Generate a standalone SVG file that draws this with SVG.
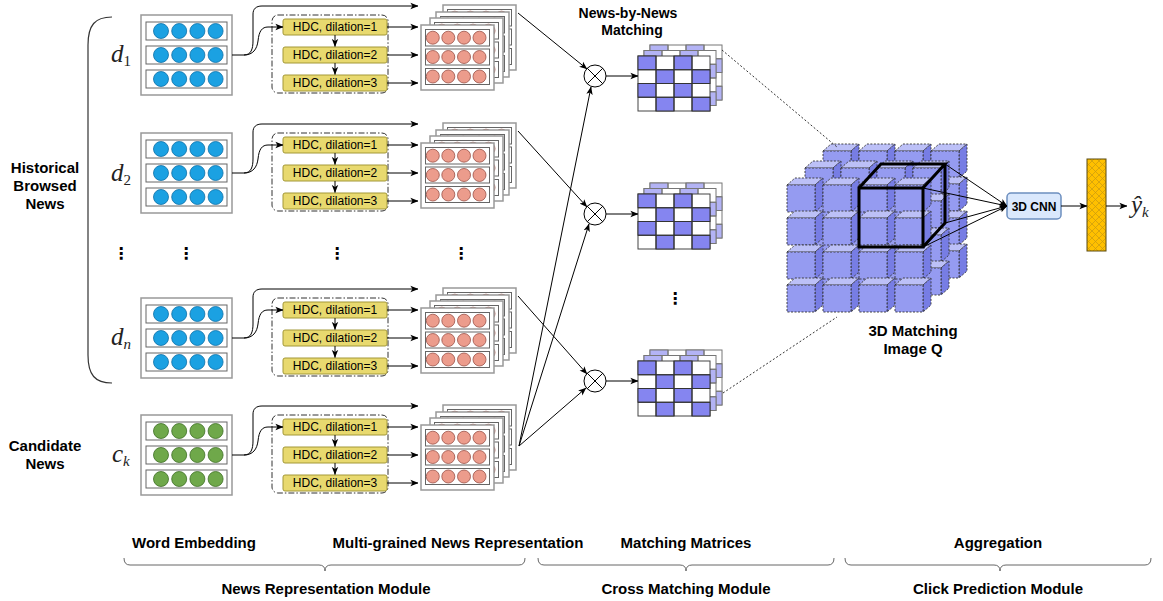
<svg xmlns="http://www.w3.org/2000/svg" width="1163" height="601" viewBox="0 0 1163 601">
<style>
.lbl{font-family:"Liberation Sans",Arial,sans-serif;font-weight:bold;font-size:15px;fill:#000;text-anchor:middle}
.lbl14{font-size:14px}
.lbl12{font-size:12px}
.hdct{font-family:"Liberation Sans",Arial,sans-serif;font-size:12px;fill:#000;text-anchor:middle}
.math{font-family:"Liberation Serif","DejaVu Serif",serif;font-style:italic;font-size:25px;fill:#222}
.sub{font-size:15px}
.dots{font-family:"DejaVu Sans",sans-serif;font-weight:bold;font-size:16px;fill:#000;text-anchor:middle}
.ln{fill:none;stroke:#000;stroke-width:1}
.arr{marker-end:url(#ah)}
.brace{fill:none;stroke:#666;stroke-width:1}
.cf{fill:#959bf1;stroke:#333;stroke-width:0.9;stroke-dasharray:2 1.5}
.ct{fill:#bcc0f7;stroke:#333;stroke-width:0.9;stroke-dasharray:2 1.5}
.cs{fill:#777de4;stroke:#333;stroke-width:0.9;stroke-dasharray:2 1.5}
</style>
<defs>
<marker id="ah" viewBox="0 0 10 10" refX="9.5" refY="5" markerWidth="8" markerHeight="8" markerUnits="userSpaceOnUse" orient="auto">
<path d="M0,1 L10,5 L0,9 L2.5,5 z" fill="#000"/>
</marker>
<pattern id="hatch" width="7" height="7" patternUnits="userSpaceOnUse">
<rect width="7" height="7" fill="#ffc000"/>
<path d="M0,0 L7,7 M7,0 L0,7" stroke="#c99a10" stroke-width="0.7"/>
</pattern>
<g id="embBlue">
<rect x="0" y="0" width="91" height="80" fill="#fff" stroke="#999" stroke-width="1.5"/>
<rect x="5" y="7" width="81" height="18" fill="#fff" stroke="#666"/>
<rect x="5" y="31" width="81" height="18" fill="#fff" stroke="#666"/>
<rect x="5" y="55" width="81" height="18" fill="#fff" stroke="#666"/>
<g fill="#1ba1e2" stroke="#0d6fa6" stroke-width="0.8">
<circle cx="20" cy="16" r="7.5"/><circle cx="38.2" cy="16" r="7.5"/><circle cx="56.4" cy="16" r="7.5"/><circle cx="74.6" cy="16" r="7.5"/>
<circle cx="20" cy="40" r="7.5"/><circle cx="38.2" cy="40" r="7.5"/><circle cx="56.4" cy="40" r="7.5"/><circle cx="74.6" cy="40" r="7.5"/>
<circle cx="20" cy="64" r="7.5"/><circle cx="38.2" cy="64" r="7.5"/><circle cx="56.4" cy="64" r="7.5"/><circle cx="74.6" cy="64" r="7.5"/>
</g>
</g>
<g id="embGreen">
<rect x="0" y="0" width="91" height="80" fill="#fff" stroke="#999" stroke-width="1.5"/>
<rect x="5" y="7" width="81" height="18" fill="#fff" stroke="#666"/>
<rect x="5" y="31" width="81" height="18" fill="#fff" stroke="#666"/>
<rect x="5" y="55" width="81" height="18" fill="#fff" stroke="#666"/>
<g fill="#6fa84a" stroke="#3e6d24" stroke-width="0.8">
<circle cx="20" cy="16" r="7.5"/><circle cx="38.2" cy="16" r="7.5"/><circle cx="56.4" cy="16" r="7.5"/><circle cx="74.6" cy="16" r="7.5"/>
<circle cx="20" cy="40" r="7.5"/><circle cx="38.2" cy="40" r="7.5"/><circle cx="56.4" cy="40" r="7.5"/><circle cx="74.6" cy="40" r="7.5"/>
<circle cx="20" cy="64" r="7.5"/><circle cx="38.2" cy="64" r="7.5"/><circle cx="56.4" cy="64" r="7.5"/><circle cx="74.6" cy="64" r="7.5"/>
</g>
</g>
<g id="hdc">
<rect x="0" y="0" width="116" height="78" rx="6" fill="none" stroke="#333" stroke-dasharray="6 2 1.5 2"/>
<g fill="#e8d96f" stroke="#a39838">
<rect x="11" y="4" width="104" height="16" rx="2"/>
<rect x="11" y="32" width="104" height="16" rx="2"/>
<rect x="11" y="60" width="104" height="16" rx="2"/>
</g>
<text class="hdct" x="63" y="16.3">HDC, dilation=1</text>
<text class="hdct" x="63" y="44.3">HDC, dilation=2</text>
<text class="hdct" x="63" y="72.3">HDC, dilation=3</text>
<path class="ln arr" d="M63,20 L63,31.5"/>
<path class="ln arr" d="M63,48 L63,59.5"/>
</g>
<g id="layer">
<rect x="0" y="0" width="73" height="65" fill="#fff" stroke="#999" stroke-width="1.5"/>
<rect x="4.5" y="4.5" width="64" height="16.5" fill="#fff" stroke="#666"/>
<rect x="4.5" y="24" width="64" height="16" fill="#fff" stroke="#666"/>
<rect x="4.5" y="43.5" width="64" height="16" fill="#fff" stroke="#666"/>
<g fill="#ec9c8c" stroke="#9b5046" stroke-width="0.8">
<circle cx="11.8" cy="12.7" r="6.5"/><circle cx="27.3" cy="12.7" r="6.5"/><circle cx="43" cy="12.7" r="6.5"/><circle cx="58.5" cy="12.7" r="6.5"/>
<circle cx="11.8" cy="32" r="6.5"/><circle cx="27.3" cy="32" r="6.5"/><circle cx="43" cy="32" r="6.5"/><circle cx="58.5" cy="32" r="6.5"/>
<circle cx="11.8" cy="51.5" r="6.5"/><circle cx="27.3" cy="51.5" r="6.5"/><circle cx="43" cy="51.5" r="6.5"/><circle cx="58.5" cy="51.5" r="6.5"/>
</g>
</g>
<g id="stack">
<use href="#layer" x="22" y="-20"/>
<use href="#layer" x="15" y="-13"/>
<use href="#layer" x="9" y="-7"/>
<use href="#layer" x="0" y="0"/>
</g>
<g id="matBack">
<rect x="0" y="0" width="72" height="55" fill="#fff" stroke="#777"/>
<g fill="#b3b3f5" stroke="#777">
<rect x="0" y="0" width="18" height="13.75"/><rect x="36" y="0" width="18" height="13.75"/>
<rect x="18" y="13.75" width="18" height="13.75"/><rect x="54" y="13.75" width="18" height="13.75"/>
<rect x="0" y="27.5" width="18" height="13.75"/><rect x="36" y="27.5" width="18" height="13.75"/>
<rect x="18" y="41.25" width="18" height="13.75"/><rect x="54" y="41.25" width="18" height="13.75"/>
</g>
<path d="M18,0V55M36,0V55M54,0V55M0,13.75H72M0,27.5H72M0,41.25H72" stroke="#777" fill="none"/>
</g>
<g id="matFront">
<rect x="0" y="0" width="72" height="55" fill="#fff" stroke="#444"/>
<g fill="#8585f0" stroke="#333">
<rect x="0" y="0" width="18" height="13.75"/><rect x="36" y="0" width="18" height="13.75"/>
<rect x="18" y="13.75" width="18" height="13.75"/><rect x="54" y="13.75" width="18" height="13.75"/>
<rect x="0" y="27.5" width="18" height="13.75"/><rect x="36" y="27.5" width="18" height="13.75"/>
<rect x="18" y="41.25" width="18" height="13.75"/><rect x="54" y="41.25" width="18" height="13.75"/>
</g>
<path d="M18,0V55M36,0V55M54,0V55M0,13.75H72M0,27.5H72M0,41.25H72" stroke="#333" fill="none"/>
</g>
<g id="matrix">
<use href="#matBack" x="12" y="-11"/>
<use href="#matBack" x="6" y="-5.5"/>
<use href="#matFront" x="0" y="0"/>
</g>
<g id="otimes">
<circle cx="0" cy="0" r="11" fill="#fff" stroke="#000"/>
<path d="M-7.8,-7.8 L7.8,7.8 M7.8,-7.8 L-7.8,7.8" stroke="#000" fill="none"/>
</g>
<g id="cb">
<polygon class="ct" points="0,0 8,-7 36,-7 28,0"/>
<polygon class="cs" points="28,0 36,-7 36,20 28,27"/>
<rect class="cf" x="0" y="0" width="28" height="27"/>
</g>
</defs>
<rect width="1163" height="601" fill="#fff"/>

<!-- left labels -->
<g id="historical-label">
<text class="lbl" x="45" y="173">Historical</text>
<text class="lbl" x="45" y="191">Browsed</text>
<text class="lbl" x="45" y="209">News</text>
<path d="M112,17 C95,17 88,25 88,45 L88,355 C88,375 95,383 112,383" fill="none" stroke="#333" stroke-width="1.2"/>
</g>
<g id="candidate-label">
<text class="lbl" x="45" y="451">Candidate</text>
<text class="lbl" x="45" y="469">News</text>
</g>
<g id="math-labels">
<text class="math" x="111" y="62">d<tspan class="sub" font-style="normal" dy="4">1</tspan></text>
<text class="math" x="111" y="181">d<tspan class="sub" font-style="normal" dy="4">2</tspan></text>
<text class="math" x="111" y="345">d<tspan class="sub" dy="4">n</tspan></text>
<text class="math" x="112" y="462">c<tspan class="sub" dy="4">k</tspan></text>
</g>
<g id="vdots">
<text class="dots" x="121" y="259">⋮</text>
<text class="dots" x="186" y="259">⋮</text>
<text class="dots" x="337" y="259">⋮</text>
<text class="dots" x="461" y="259">⋮</text>
<text class="dots" x="675" y="304">⋮</text>
</g>

<!-- row d1 -->
<g id="d1-embedding"><use href="#embBlue" x="141" y="15"/></g>
<g id="d1-hdc"><use href="#hdc" x="272" y="15"/></g>
<g id="d1-repr"><use href="#stack" x="421" y="25"/></g>
<!-- row d2 -->
<g id="d2-embedding"><use href="#embBlue" x="141" y="133"/></g>
<g id="d2-hdc"><use href="#hdc" x="272" y="133"/></g>
<g id="d2-repr"><use href="#stack" x="421" y="143"/></g>
<!-- row dn -->
<g id="dn-embedding"><use href="#embBlue" x="141" y="298"/></g>
<g id="dn-hdc"><use href="#hdc" x="272" y="298"/></g>
<g id="dn-repr"><use href="#stack" x="421" y="308"/></g>
<!-- row ck -->
<g id="ck-embedding"><use href="#embGreen" x="141" y="415"/></g>
<g id="ck-hdc"><use href="#hdc" x="272" y="415"/></g>
<g id="ck-repr"><use href="#stack" x="421" y="425"/></g>

<!-- matching -->
<g id="mult1"><use href="#otimes" x="595" y="76"/></g>
<g id="mult2"><use href="#otimes" x="595" y="214"/></g>
<g id="mult3"><use href="#otimes" x="595" y="381"/></g>
<g id="matrix1"><use href="#matrix" x="638" y="56"/></g>
<g id="matrix2"><use href="#matrix" x="638" y="194"/></g>
<g id="matrix3"><use href="#matrix" x="638" y="361"/></g>
<g id="nbn-label">
<text class="lbl lbl14" x="628" y="18">News-by-News</text>
<text class="lbl lbl14" x="632" y="35">Matching</text>
</g>

<!-- 3D matching image -->
<g id="matching-image">
<use href="#cb" x="823" y="151"/><use href="#cb" x="859" y="151"/><use href="#cb" x="895" y="151"/><use href="#cb" x="931" y="151"/>
<use href="#cb" x="823" y="184"/><use href="#cb" x="859" y="184"/><use href="#cb" x="895" y="184"/><use href="#cb" x="931" y="184"/>
<use href="#cb" x="823" y="218"/><use href="#cb" x="859" y="218"/><use href="#cb" x="895" y="218"/><use href="#cb" x="931" y="218"/>
<use href="#cb" x="823" y="251"/><use href="#cb" x="859" y="251"/><use href="#cb" x="895" y="251"/><use href="#cb" x="931" y="251"/>
<use href="#cb" x="805" y="168"/><use href="#cb" x="841" y="168"/><use href="#cb" x="877" y="168"/><use href="#cb" x="913" y="168"/>
<use href="#cb" x="805" y="201"/><use href="#cb" x="841" y="201"/><use href="#cb" x="877" y="201"/><use href="#cb" x="913" y="201"/>
<use href="#cb" x="805" y="235"/><use href="#cb" x="841" y="235"/><use href="#cb" x="877" y="235"/><use href="#cb" x="913" y="235"/>
<use href="#cb" x="805" y="268"/><use href="#cb" x="841" y="268"/><use href="#cb" x="877" y="268"/><use href="#cb" x="913" y="268"/>
<use href="#cb" x="787" y="185"/><use href="#cb" x="823" y="185"/><use href="#cb" x="859" y="185"/><use href="#cb" x="895" y="185"/>
<use href="#cb" x="787" y="218"/><use href="#cb" x="823" y="218"/><use href="#cb" x="859" y="218"/><use href="#cb" x="895" y="218"/>
<use href="#cb" x="787" y="252"/><use href="#cb" x="823" y="252"/><use href="#cb" x="859" y="252"/><use href="#cb" x="895" y="252"/>
<use href="#cb" x="787" y="285"/><use href="#cb" x="823" y="285"/><use href="#cb" x="859" y="285"/><use href="#cb" x="895" y="285"/>
<g fill="none" stroke="#000" stroke-width="3" stroke-linejoin="miter">
<rect x="859" y="188" width="64" height="59"/>
<path d="M859,188 L881,164 L945,164 L923,188 M945,164 L945,223 L923,247"/>
</g>
<text class="lbl" x="913" y="336">3D Matching</text>
<text class="lbl" x="913" y="354">Image Q</text>
</g>

<g id="cnn3d">
<rect x="1007" y="193" width="54" height="26" rx="4" fill="#dae8fc" stroke="#6c8ebf" stroke-width="1.5"/>
<text class="lbl lbl12" x="1034" y="210.5">3D CNN</text>
</g>
<g id="dense">
<rect x="1087" y="159" width="19" height="92" fill="url(#hatch)" stroke="#5a4a10"/>
</g>
<g id="output">
<text class="math" x="1131" y="213">ŷ<tspan class="sub" dy="4">k</tspan></text>
</g>

<!-- connectors -->
<g id="connectors">
<!-- d1 -->
<path class="ln arr" d="M232,55 L244,55 C251,55 253,49 253,41 L253,14 C253,9 256,6 262,6 L418,6"/>
<path class="ln arr" d="M244,55 C253,55 257,49 258,41 C259,31 262,27 268,27 L283,27"/>
<path class="ln arr" d="M387,27 L418,27"/>
<path class="ln arr" d="M387,55 L418,55"/>
<path class="ln arr" d="M387,83 L418,83"/>
<!-- d2 -->
<path class="ln arr" d="M232,173 L244,173 C251,173 253,167 253,159 L253,132 C253,127 256,124 262,124 L418,124"/>
<path class="ln arr" d="M244,173 C253,173 257,167 258,159 C259,149 262,145 268,145 L283,145"/>
<path class="ln arr" d="M387,145 L418,145"/>
<path class="ln arr" d="M387,173 L418,173"/>
<path class="ln arr" d="M387,201 L418,201"/>
<!-- dn -->
<path class="ln arr" d="M232,338 L244,338 C251,338 253,332 253,324 L253,297 C253,292 256,289 262,289 L418,289"/>
<path class="ln arr" d="M244,338 C253,338 257,332 258,324 C259,314 262,310 268,310 L283,310"/>
<path class="ln arr" d="M387,310 L418,310"/>
<path class="ln arr" d="M387,338 L418,338"/>
<path class="ln arr" d="M387,366 L418,366"/>
<!-- ck -->
<path class="ln arr" d="M232,455 L244,455 C251,455 253,449 253,441 L253,414 C253,409 256,406 262,406 L418,406"/>
<path class="ln arr" d="M244,455 C253,455 257,449 258,441 C259,431 262,427 268,427 L283,427"/>
<path class="ln arr" d="M387,427 L418,427"/>
<path class="ln arr" d="M387,455 L418,455"/>
<path class="ln arr" d="M387,483 L418,483"/>
<!-- to multipliers -->
<path class="ln arr" d="M518,13 L587,69"/>
<path class="ln arr" d="M518,131 L587,207"/>
<path class="ln arr" d="M518,296 L587,374"/>
<path class="ln arr" d="M519,446 L591,87"/>
<path class="ln arr" d="M519,446 L589,224"/>
<path class="ln arr" d="M519,446 L586,388"/>
<!-- multipliers to matrices -->
<path class="ln arr" d="M606,76 L638,76"/>
<path class="ln arr" d="M606,214 L638,214"/>
<path class="ln arr" d="M606,381 L638,381"/>
<!-- dotted projections -->
<path d="M722,50 L837,147" fill="none" stroke="#333" stroke-dasharray="2 2"/>
<path d="M723,393 L837,317" fill="none" stroke="#333" stroke-dasharray="2 2"/>
<!-- cube to CNN -->
<path class="ln arr" d="M945,164 L1007,206"/>
<path class="ln arr" d="M923,188 L1007,206"/>
<path class="ln arr" d="M945,223 L1007,206"/>
<path class="ln arr" d="M923,247 L1007,206"/>
<path class="ln arr" d="M1061,206 L1087,206"/>
<path class="ln arr" d="M1106,206 L1127,206"/>
</g>

<!-- bottom -->
<g id="bottom-labels">
<text class="lbl" x="194" y="548">Word Embedding</text>
<text class="lbl" x="458" y="548">Multi-grained News Representation</text>
<text class="lbl" x="686" y="548">Matching Matrices</text>
<text class="lbl" x="998" y="548">Aggregation</text>
<path class="brace" d="M124,558 Q124,565 130,565 L319,565 Q325,565 325,571 Q325,565 331,565 L519,565 Q525,565 525,558"/>
<path class="brace" d="M538,558 Q538,565 544,565 L680,565 Q686,565 686,571 Q686,565 692,565 L828,565 Q834,565 834,558"/>
<path class="brace" d="M845,558 Q845,565 851,565 L994,565 Q1000,565 1000,571 Q1000,565 1006,565 L1145,565 Q1151,565 1151,558"/>
<text class="lbl" x="326" y="594">News Representation Module</text>
<text class="lbl" x="686" y="594">Cross Matching Module</text>
<text class="lbl" x="998" y="594">Click Prediction Module</text>
</g>
</svg>
